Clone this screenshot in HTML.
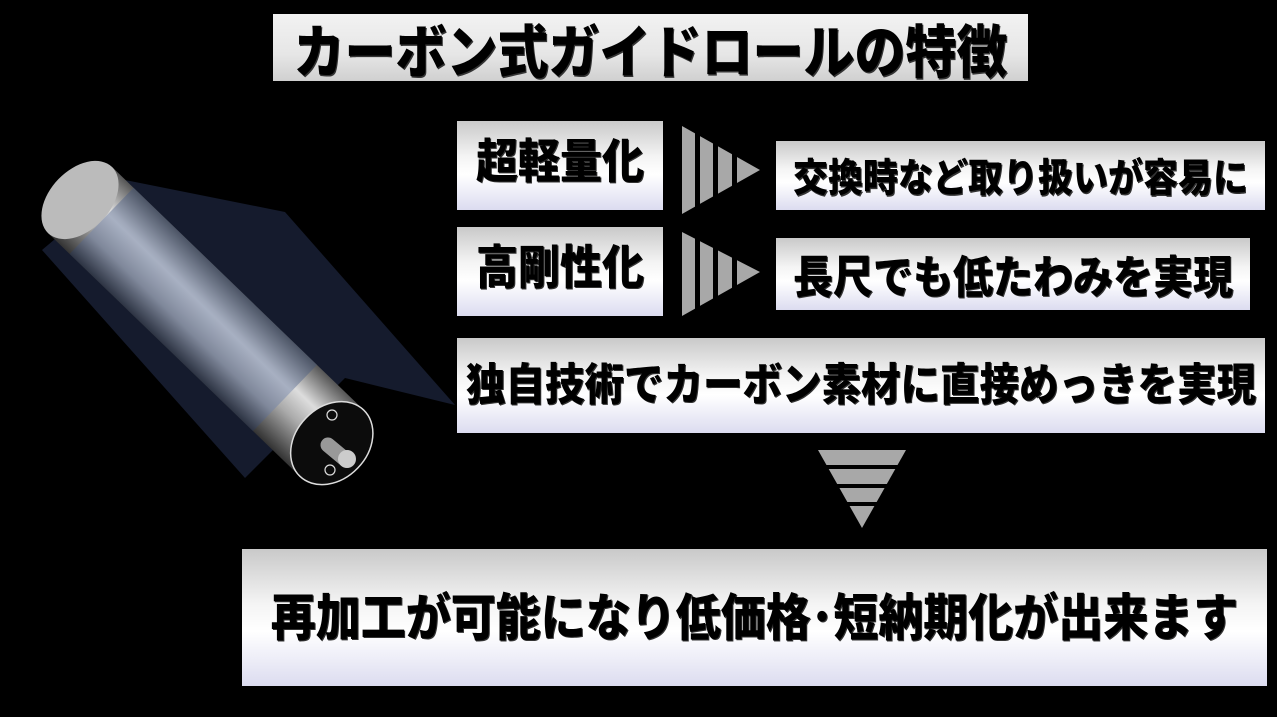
<!DOCTYPE html>
<html><head><meta charset="utf-8"><style>
html,body{margin:0;padding:0;background:#000;width:1277px;height:717px;overflow:hidden;position:relative;font-family:"Liberation Sans","Noto Sans CJK JP",sans-serif;}
.b{position:absolute;background:linear-gradient(#c9c9c9 0%,#f4f4f4 40%,#fff 60%,#dcdcf0 100%);display:flex;align-items:center;justify-content:center;font-weight:900;color:#000;white-space:nowrap;text-shadow:1px 1px 0 #333;}
.b span{display:inline-block;transform:scaleY(1.12);}
</style></head><body>
<div class="b" style="left:273px;top:14px;width:755px;height:67px;font-size:51px;background:linear-gradient(#f2f2f2,#e6e6e6 60%,#d0d0d0);"><span>カーボン式ガイドロールの特徴</span></div>
<div class="b" style="left:457px;top:121px;width:206px;height:89px;font-size:42px;padding-bottom:14px;box-sizing:border-box;"><span>超軽量化</span></div>
<div class="b" style="left:457px;top:227px;width:206px;height:89px;font-size:42px;padding-bottom:14px;box-sizing:border-box;"><span>高剛性化</span></div>
<div class="b" style="left:776px;top:141px;width:489px;height:69px;font-size:35px;"><span>交換時など取り扱いが容易に</span></div>
<div class="b" style="left:776px;top:238px;width:474px;height:72px;font-size:40px;"><span>長尺でも低たわみを実現</span></div>
<div class="b" style="left:457px;top:338px;width:808px;height:95px;font-size:39.5px;padding-bottom:8px;box-sizing:border-box;"><span>独自技術でカーボン素材に直接めっきを実現</span></div>
<div class="b" style="left:242px;top:549px;width:1025px;height:137px;font-size:45px;padding-bottom:8px;box-sizing:border-box;"><span>再加工が可能になり低価格･短納期化が出来ます</span></div>
<svg width="1277" height="717" style="position:absolute;left:0;top:0">
<defs>
<linearGradient id="cyl" x1="0" y1="0" x2="0" y2="1"><stop offset="0" stop-color="#555"/><stop offset=".35" stop-color="#ddd"/><stop offset=".6" stop-color="#aaa"/><stop offset="1" stop-color="#333"/></linearGradient>
<linearGradient id="mid" x1="0" y1="0" x2="0" y2="1"><stop offset="0" stop-color="#4a5468"/><stop offset=".4" stop-color="#a0aabf"/><stop offset=".7" stop-color="#7d879d"/><stop offset="1" stop-color="#2c3446"/></linearGradient>
</defs>
<polygon points="42,250 125,180 285,212 455,405 345,378 245,478" fill="#1a2238" opacity=".8"/>
<g transform="translate(80,200) rotate(44)">
<rect x="0" y="-46" width="350" height="92" fill="url(#cyl)"/>
<ellipse cx="0" cy="0" rx="30" ry="46" fill="#bbb"/>
<rect x="30" y="-46" width="255" height="92" fill="url(#mid)" opacity=".85"/>
<ellipse cx="350" cy="0" rx="36" ry="46" fill="#0c0c0c" stroke="#ddd" stroke-width="1.5"/>
</g>
<circle cx="332" cy="415" r="5" fill="none" stroke="#ddd" stroke-width="1.2"/>
<circle cx="330" cy="470" r="5" fill="none" stroke="#ddd" stroke-width="1.2"/>
<line x1="328" y1="445" x2="346" y2="460" stroke="#999" stroke-width="15" stroke-linecap="round"/>
<circle cx="347" cy="459" r="9" fill="#ccc"/>
<g fill="#a8a8a8">
<polygon points="682,126 760,170 682,214"/>
<polygon points="682,232 760,272 682,316"/>
<polygon points="818,450 906,450 862,528"/>
</g>
<g fill="#000">
<rect x="695" y="120" width="5" height="200"/><rect x="713" y="120" width="5" height="200"/><rect x="732" y="120" width="5" height="200"/>
<rect x="810" y="465" width="100" height="4"/><rect x="810" y="484" width="100" height="4"/><rect x="810" y="502" width="100" height="4"/>
</g>
</svg>
</body></html>
